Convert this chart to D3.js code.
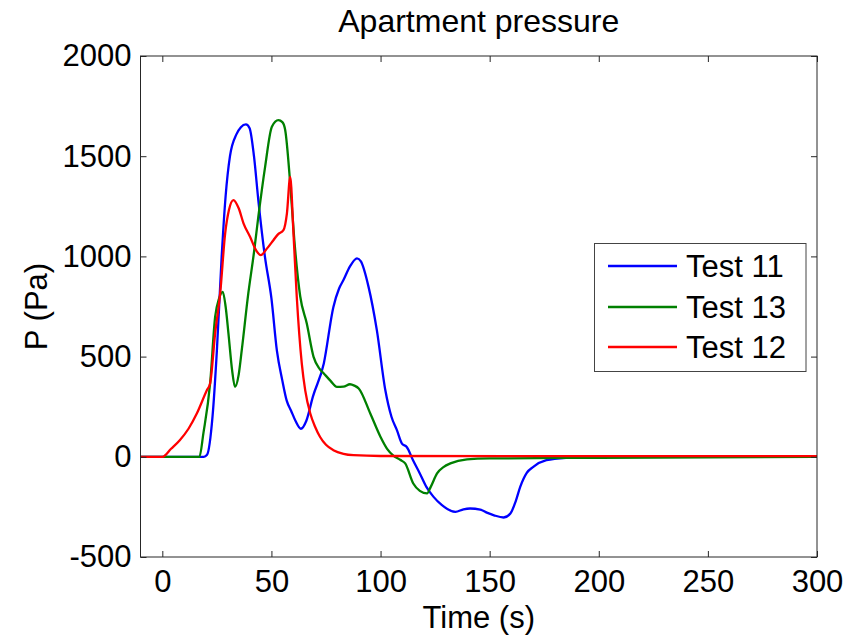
<!DOCTYPE html>
<html>
<head>
<meta charset="utf-8">
<script src="https://cdn.jsdelivr.net/npm/d3@7"></script>
<style>
  html, body { margin: 0; padding: 0; background: #fff; }
  svg text { font-family: "Liberation Sans", Arial, Helvetica, sans-serif; fill: #000; }
</style>
</head>
<body>
<svg id="chart" width="864" height="639"></svg>
<script>
// ---- Data ----
const title = "Apartment pressure";
const xLabel = "Time (s)";
const yLabel = "P (Pa)";
const xTicks = [0, 50, 100, 150, 200, 250, 300];
const yTicks = [-500, 0, 500, 1000, 1500, 2000];
const seriesNames = ["Test 11", "Test 13", "Test 12"];
const seriesColors = ["#0000ff", "#008000", "#ff0000"];

const t11 = [-10,19,20.5,23,25,27.2,29,31,34,36,38.3,40,42,44,47,50,52.5,55,57,59,61,63.5,66,69,74,78.4,81,83,86,89.2,91,94.5,98.3,102.2,105,107.5,109.8,112,115,118,121,124.3,128,134.3,138,141,145.7,149,152,156.4,159.5,162,164,167,170,176,185,200,300];
const p11 = [0,0,10,200,530,1000,1300,1500,1610,1645,1659,1640,1500,1280,1000,790,530,380,280,230,180,140,180,300,466,748,840,882,950,990,975,848,632,332,200,133,66,49,-20,-83,-150,-200,-240,-275,-262,-258,-263,-280,-292,-303,-283,-220,-150,-80,-50,-17,-5,0,0];

const t13 = [-10,17,18.8,21.9,24.2,26,27.7,29,30.3,32,33.3,35,36.4,39.4,42,44,47.1,50.2,53.2,55,56.3,58.6,60.5,63.2,66.2,69.3,72,74,77,80,83,86,88,90,95.3,100,103,106,109,111.3,115,118,121.3,123,125.9,129,132,139.6,150,200,300];
const p13 = [0,0,116,366,698,790,823,750,616,430,349,410,532,815,1020,1198,1447,1647,1680,1670,1631,1364,1080,800,665,499,440,416,380,349,350,362,355,341,216,99,40,5,-15,-33,-133,-170,-183,-150,-83,-50,-33,-13,-8,-5,0];

const t12 = [-10,0,4,8,12,15.8,20.4,21.9,24.2,26.5,28.8,30.5,32.6,35,37.2,40.2,43,45.1,48,50.9,53,55.5,57.1,58.6,60.1,61.6,63.9,65.5,67.8,70,72.3,75,78.4,83,87.6,100,300];
const p12 = [0,0,40,83,140,216,332,366,616,815,1115,1230,1281,1240,1165,1098,1030,1006,1040,1081,1110,1131,1215,1397,1115,800,466,330,216,150,99,60,33,15,8,4,3];

const seriesT = [t11, t13, t12];
const seriesP = [p11, p13, p12];

// ---- Layout ----
const svg = d3.select("#chart");
const L = 140.5, R = 817, T = 56, B = 557;
const x = d3.scaleLinear().domain([-10, 300]).range([L, R]);
const y = d3.scaleLinear().domain([-500, 2000]).range([B, T]);
const fs = 31;
const frameColor = "#262626";
const tickLen = 6;
const numFmt = d => String(d); // hyphen-minus like the reference

svg.append("rect").attr("x", L).attr("y", T).attr("width", R - L).attr("height", B - T).attr("fill", "#fff");

svg.append("clipPath").attr("id", "clip").append("rect")
  .attr("x", L).attr("y", T - 2).attr("width", R - L).attr("height", B - T + 4);

// series
const line = d3.line().x(d => x(d[0])).y(d => y(d[1])).curve(d3.curveMonotoneX);
const g = svg.append("g").attr("clip-path", "url(#clip)");
seriesT.forEach((ts, i) => {
  const pts = ts.map((t, k) => [t, seriesP[i][k]]);
  g.append("path").datum(pts)
    .attr("d", line)
    .attr("fill", "none")
    .attr("stroke", seriesColors[i])
    .attr("stroke-width", 2.3)
    .attr("stroke-linejoin", "round");
});

// axes (ticks inward on all sides)
const axB = d3.axisBottom(x).tickValues(xTicks).tickSize(-tickLen).tickPadding(13).tickFormat(numFmt);
const axT = d3.axisTop(x).tickValues(xTicks).tickSize(-tickLen).tickFormat("");
const axLf = d3.axisLeft(y).tickValues(yTicks).tickSize(-tickLen).tickPadding(9).tickFormat(numFmt);
const axRt = d3.axisRight(y).tickValues(yTicks).tickSize(-tickLen).tickFormat("");

function style(sel) {
  sel.select(".domain").remove();
  sel.selectAll(".tick line").attr("stroke", frameColor).attr("stroke-width", 1);
  sel.selectAll(".tick text").attr("font-size", fs).attr("font-family", '"Liberation Sans", Arial, sans-serif').attr("fill", "#000");
}
svg.append("g").attr("transform", `translate(0,${B})`).call(axB).call(style);
svg.append("g").attr("transform", `translate(0,${T})`).call(axT).call(style);
svg.append("g").attr("transform", `translate(${L},0)`).call(axLf).call(style);
svg.append("g").attr("transform", `translate(${R},0)`).call(axRt).call(style);

// frame
svg.append("rect").attr("x", L).attr("y", T).attr("width", R - L).attr("height", B - T)
  .attr("fill", "none").attr("stroke", frameColor).attr("stroke-width", 1);

// title & labels
svg.append("text").attr("x", (L + R) / 2).attr("y", 32).attr("text-anchor", "middle")
  .attr("font-size", 32).text(title);
svg.append("text").attr("x", (L + R) / 2).attr("y", 628).attr("text-anchor", "middle")
  .attr("font-size", fs).text(xLabel);
svg.append("text").attr("transform", `translate(47,${(T + B) / 2}) rotate(-90)`).attr("text-anchor", "middle")
  .attr("font-size", fs).text(yLabel);

// legend
const lg = svg.append("g");
lg.append("rect").attr("x", 594.5).attr("y", 243.5).attr("width", 211.5).attr("height", 128)
  .attr("fill", "#fff").attr("stroke", "#444").attr("stroke-width", 1);
const rowY = [266, 307, 347];
seriesNames.forEach((name, i) => {
  lg.append("line").attr("x1", 608).attr("x2", 677).attr("y1", rowY[i]).attr("y2", rowY[i])
    .attr("stroke", seriesColors[i]).attr("stroke-width", 2.3);
  lg.append("text").attr("x", 686).attr("y", rowY[i] + 11).attr("font-size", fs).text(name);
});
</script>
</body>
</html>
